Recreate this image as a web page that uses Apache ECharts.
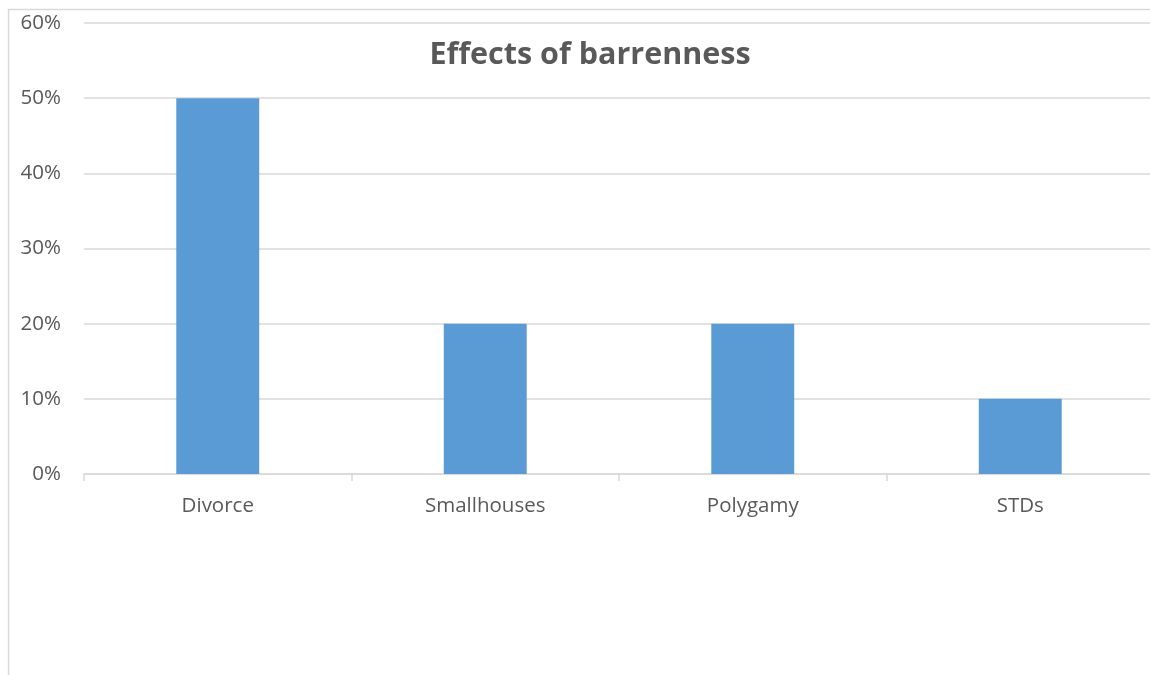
<!DOCTYPE html>
<html>
<head>
    <meta charset="utf-8">
    <title>Effects of barrenness</title>
    <script src="https://cdn.jsdelivr.net/npm/echarts@6/dist/echarts.min.js"></script>
    <style>
        body{ margin: 0; background: #fff; }
        #chart{ width: 1150px; height: 675px; }
    </style>
</head>
<body>
<div id="chart"></div>
<script>
    // data
    var categories = ['Divorce', 'Smallhouses', 'Polygamy', 'STDs'];
    var shares = [0.5, 0.2, 0.2, 0.1];
    var yTicks = [0, 0.1, 0.2, 0.3, 0.4, 0.5, 0.6];

    var textGrey = '#595959';
    var lineGrey = '#d9d9d9';

    var option = {
        animation: false,
        title: {
            text: 'Effects of barrenness',
            left: 585,
            top: 35,
            textAlign: 'center',
            textStyle: {
                fontFamily: 'Open Sans',
                fontSize: 30.5,
                fontWeight: 'bold',
                color: textGrey
            }
        },
        // chart area border (left + top visible, rest cut off)
        graphic: [{
            type: 'rect',
            shape: { x: 8.5, y: 9.5, width: 1200, height: 700 },
            style: { fill: 'none', stroke: lineGrey, lineWidth: 1.5 },
            silent: true
        }],
        grid: {
            left: 84,
            width: 1070,
            top: 23,
            bottom: 201,
            containLabel: false,
            outerBoundsMode: 'none'
        },
        xAxis: {
            type: 'category',
            data: categories,
            axisLine: { lineStyle: { color: lineGrey, width: 1.5 } },
            axisTick: { show: true, length: 7, alignWithLabel: false, lineStyle: { color: lineGrey, width: 1.5 } },
            axisLabel: {
                margin: 22,
                fontFamily: 'Open Sans',
                fontSize: 20.5,
                color: textGrey
            }
        },
        yAxis: {
            type: 'value',
            min: yTicks[0],
            max: yTicks[yTicks.length - 1],
            interval: 0.1,
            axisLine: { show: false },
            axisTick: { show: false },
            splitLine: { lineStyle: { color: lineGrey, width: 1.5 } },
            axisLabel: {
                margin: 23,
                fontFamily: 'Open Sans',
                fontSize: 20.5,
                color: textGrey,
                formatter: function (v) { return Math.round(v * 100) + '%'; }
            }
        },
        series: [{
            type: 'bar',
            data: shares,
            barWidth: '31%',
            itemStyle: { color: '#5b9bd5' }
        }]
    };

    var myChart = echarts.init(document.getElementById('chart'));
    myChart.setOption(option);
</script>
</body>
</html>
